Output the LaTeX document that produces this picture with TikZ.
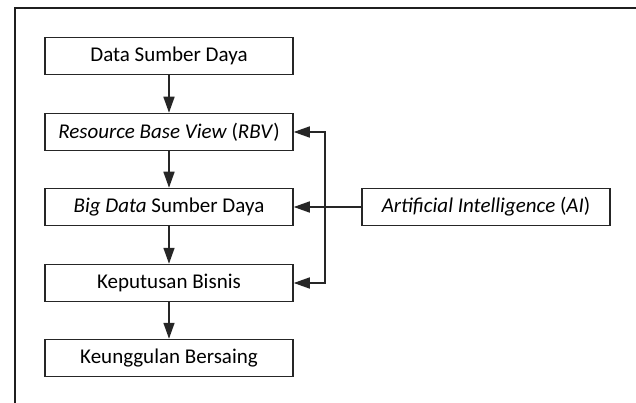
\documentclass[tikz,border=0pt]{standalone}
\usepackage{fontspec}
\setmainfont{Carlito}
\usetikzlibrary{arrows.meta}
\begin{document}
\begin{tikzpicture}[x=1pt,y=-1pt,
  box/.style={draw=black!85, line width=1.5pt, minimum width=248pt, minimum height=37pt, inner sep=0pt, font=\fontsize{21}{24}\selectfont},
  conn/.style={draw=black!85, line width=1.6pt},
  tip/.style={-{Triangle[length=16pt,width=11pt]}}]
\useasboundingbox (0,0) rectangle (636,403);
\draw[line width=2.6pt, black!88] (15,403) -- (15,8) -- (636,8);
\node[box] (dsd) at (169,56) {Data Sumber Daya};
\node[box] (rbv) at (169,132) {\textit{Resource Base View} (\textit{RBV})};
\node[box] (bd)  at (169,207) {\textit{Big Data} Sumber Daya};
\node[box] (kb)  at (169,283) {Keputusan Bisnis};
\node[box] (ku)  at (169,358) {Keunggulan Bersaing};
\node[box] (ai)  at (486,207) {\textit{Artificial Intelligence} (\textit{AI})};
\coordinate (c1) at (325,132);
\coordinate (c2) at (325,283);
\draw[conn,tip] (dsd) -- (rbv);
\draw[conn,tip] (rbv) -- (bd);
\draw[conn,tip] (bd) -- (kb);
\draw[conn,tip] (kb) -- (ku);
\draw[conn,tip] (ai) -- (bd);
\draw[conn,{Triangle[length=16pt,width=11pt]}-{Triangle[length=16pt,width=11pt]}] (rbv.east) -- (c1) -- (c2) -- (kb.east);
\end{tikzpicture}
\end{document}
